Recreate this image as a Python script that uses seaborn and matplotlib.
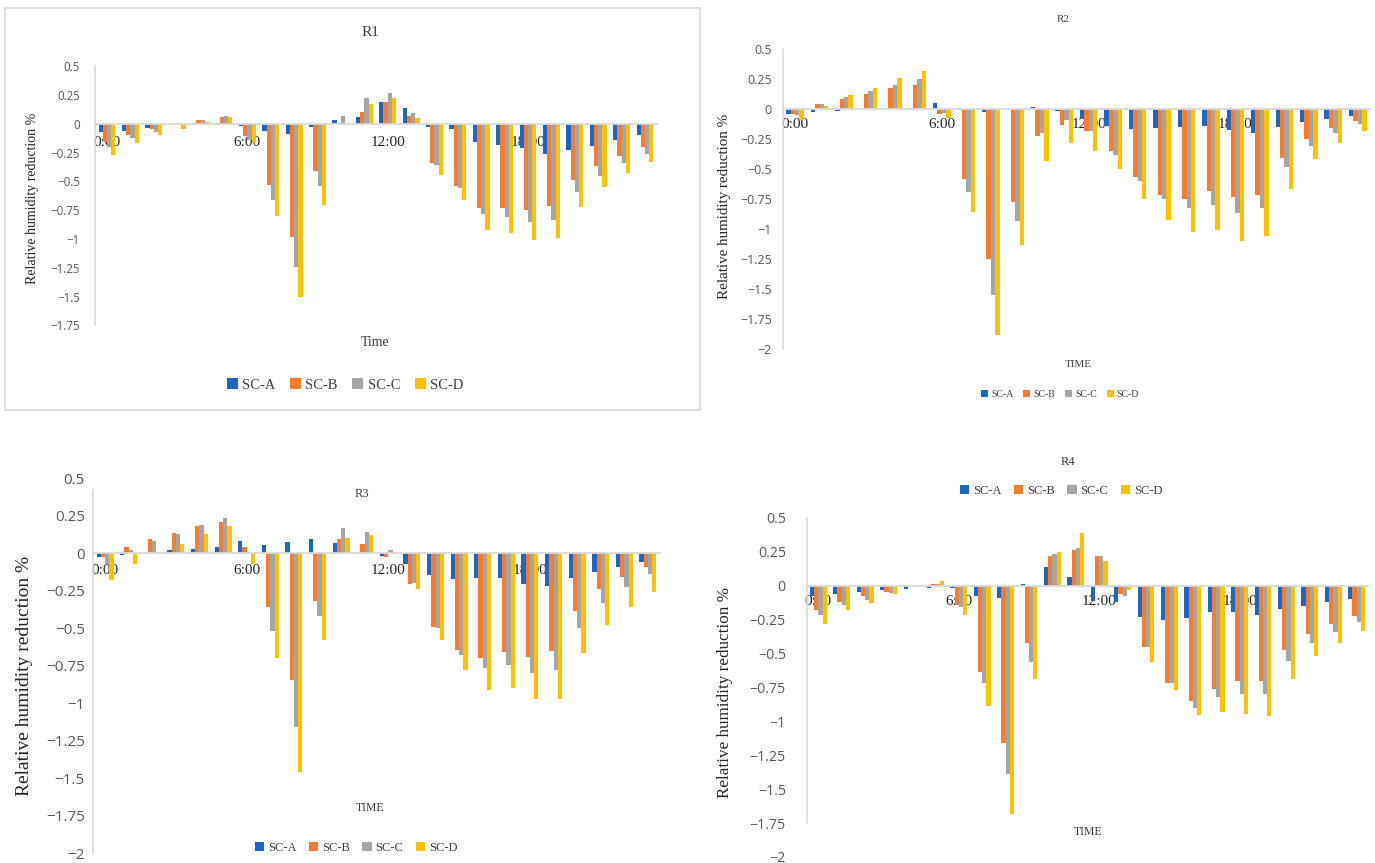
import numpy as np
import pandas as pd
import matplotlib
matplotlib.use("Agg")
import matplotlib.pyplot as plt
import seaborn as sns
from matplotlib.patches import Rectangle

# ---------------- data ----------------
hours = [f"{h}:00" for h in range(24)]
series = ["SC-A", "SC-B", "SC-C", "SC-D"]
tick_labels = ["0:00", "6:00", "12:00", "18:00"]
y_ticks_r1 = [0.5, 0.25, 0, -0.25, -0.5, -0.75, -1, -1.25, -1.5, -1.75]
y_ticks_r2 = [0.5, 0.25, 0, -0.25, -0.5, -0.75, -1, -1.25, -1.5, -1.75, -2]

r1_a = [-0.07, -0.06, -0.04, 0, 0.005, 0.005, -0.02, -0.06, -0.09, -0.03, 0.035, 0.06,
        0.19, 0.14, -0.03, -0.045, -0.155, -0.185, -0.21, -0.26, -0.23, -0.195, -0.145, -0.1]
r1_b = [-0.16, -0.1, -0.05, 0, 0.035, 0.06, -0.11, -0.53, -0.98, -0.41, 0.01, 0.1,
        0.19, 0.065, -0.345, -0.54, -0.73, -0.73, -0.75, -0.715, -0.49, -0.37, -0.28, -0.2]
r1_c = [-0.2, -0.12, -0.07, 0, 0.035, 0.07, -0.14, -0.665, -1.24, -0.54, 0.065, 0.22,
        0.27, 0.095, -0.355, -0.555, -0.78, -0.805, -0.855, -0.835, -0.59, -0.45, -0.345, -0.26]
r1_d = [-0.27, -0.17, -0.1, -0.045, 0.015, 0.06, -0.17, -0.8, -1.5, -0.705, -0.01, 0.17,
        0.225, 0.05, -0.445, -0.66, -0.92, -0.945, -1.01, -0.99, -0.72, -0.545, -0.43, -0.335]

r2_a = [-0.04, -0.02, -0.015, 0, 0, 0.01, 0.05, 0.01, -0.02, 0.005, 0.02, -0.015,
        -0.07, -0.14, -0.165, -0.16, -0.15, -0.14, -0.17, -0.2, -0.145, -0.11, -0.085, -0.055]
r2_b = [-0.04, 0.04, 0.085, 0.13, 0.175, 0.205, -0.04, -0.58, -1.245, -0.775, -0.225, -0.13,
        -0.18, -0.35, -0.565, -0.715, -0.75, -0.68, -0.735, -0.715, -0.405, -0.25, -0.16, -0.095]
r2_c = [-0.05, 0.04, 0.105, 0.15, 0.2, 0.25, -0.03, -0.69, -1.545, -0.93, -0.2, -0.09,
        -0.18, -0.38, -0.6, -0.75, -0.825, -0.8, -0.865, -0.82, -0.485, -0.305, -0.2, -0.12]
r2_d = [-0.09, 0.03, 0.115, 0.18, 0.26, 0.32, -0.075, -0.86, -1.885, -1.135, -0.43, -0.28,
        -0.35, -0.5, -0.745, -0.92, -1.02, -1.005, -1.1, -1.055, -0.665, -0.415, -0.285, -0.185]

r3_a = [-0.027, -0.01, 0.005, 0.025, 0.03, 0.04, 0.08, 0.055, 0.075, 0.095, 0.07, 0,
        -0.02, -0.07, -0.145, -0.17, -0.165, -0.165, -0.205, -0.22, -0.165, -0.125, -0.09, -0.055]
r3_b = [-0.027, 0.04, 0.095, 0.135, 0.18, 0.21, 0.04, -0.36, -0.845, -0.32, 0.095, 0.065,
        -0.025, -0.205, -0.49, -0.645, -0.695, -0.655, -0.69, -0.65, -0.385, -0.24, -0.16, -0.09]
r3_c = [-0.07, 0.02, 0.085, 0.13, 0.19, 0.235, 0.01, -0.515, -1.16, -0.42, 0.17, 0.145,
        0.025, -0.2, -0.5, -0.675, -0.765, -0.745, -0.8, -0.775, -0.495, -0.33, -0.225, -0.14]
r3_d = [-0.18, -0.07, 0, 0.065, 0.13, 0.185, -0.07, -0.7, -1.46, -0.58, 0.1, 0.12,
        -0.005, -0.235, -0.58, -0.78, -0.91, -0.9, -0.97, -0.97, -0.665, -0.475, -0.36, -0.26]

r4_a = [-0.075, -0.06, -0.05, -0.035, -0.025, -0.02, -0.02, -0.075, -0.09, 0.01, 0.14, 0.06,
        -0.11, -0.12, -0.23, -0.255, -0.235, -0.195, -0.195, -0.22, -0.175, -0.15, -0.12, -0.095]
r4_b = [-0.18, -0.12, -0.08, -0.045, -0.005, 0.015, -0.14, -0.64, -1.16, -0.42, 0.22, 0.26,
        0.215, -0.06, -0.45, -0.72, -0.85, -0.765, -0.705, -0.7, -0.475, -0.355, -0.28, -0.225]
r4_c = [-0.22, -0.145, -0.105, -0.055, -0.01, 0.015, -0.155, -0.715, -1.385, -0.56, 0.235, 0.28,
        0.22, -0.08, -0.45, -0.72, -0.9, -0.82, -0.8, -0.8, -0.555, -0.42, -0.34, -0.27]
r4_d = [-0.28, -0.18, -0.125, -0.065, 0, 0.035, -0.215, -0.885, -1.68, -0.69, 0.25, 0.39,
        0.185, -0.03, -0.56, -0.77, -0.955, -0.93, -0.945, -0.96, -0.69, -0.52, -0.42, -0.335]

colors = ["#1A68C6", "#F97C2C", "#A5A5A5", "#FFC000"]

# ---------------- style ----------------
W, H = 1375, 863
sns.set_theme(style="white")
SERIF = ["Liberation Serif", "DejaVu Serif"]
SANS = ["Open Sans", "DejaVu Sans"]
plt.rcParams["font.family"] = SERIF

fig = plt.figure(figsize=(W / 100, H / 100), dpi=100)


def rect(l, r, t, b):
    return [l / W, 1 - b / H, (r - l) / W, (b - t) / H]


def fx(x):
    return x / W


def fy(y):
    return 1 - y / H


def fmt(v):
    s = f"{v:g}"
    return s.replace("-", "\u2212")


# border of panel R1
fig.patches.append(Rectangle((fx(5), fy(410)), fx(700) - fx(5), fy(8) - fy(410),
                             transform=fig.transFigure, fill=False,
                             edgecolor="#D9D9D9", linewidth=1.2))

panels = [
    dict(name="R1", vals=(r1_a, r1_b, r1_c, r1_d), rect=rect(95.3, 656.7, 66, 325.5),
         ylim=(-1.75, 0.5), yticks=y_ticks_r1, tick_fs=8.3, tick_pad=11,
         xt_fs=9, xt_pad=9, ylab=(33, 198, 10), title=(370, 32, 11),
         xlab=("Time", 375, 342, 10), leg=(345, 385, 10.5), spine=(-1.75, 0.5)),
    dict(name="R2", vals=(r2_a, r2_b, r2_c, r2_d), rect=rect(782.8, 1370, 49.3, 349.3),
         ylim=(-2, 0.5), yticks=y_ticks_r2, tick_fs=9, tick_pad=8,
         xt_fs=7, xt_pad=6.5, ylab=(725, 206, 10.8), title=(1063, 20, 8),
         xlab=("TIME", 1078, 364, 8), leg=(1060, 394, 7), spine=(-2, 0.5)),
    dict(name="R3", vals=(r3_a, r3_b, r3_c, r3_d), rect=rect(93.2, 659.8, 478.3, 853.3),
         ylim=(-2, 0.5), yticks=y_ticks_r2, tick_fs=11, tick_pad=6,
         xt_fs=8.5, xt_pad=8, ylab=(25, 676, 14), title=(362, 494, 9),
         xlab=("TIME", 370, 808, 8.5), leg=(356, 848, 9), spine=(-2, 0.42)),
    dict(name="R4", vals=(r4_a, r4_b, r4_c, r4_d), rect=rect(806.6, 1368.4, 517.8, 857),
         ylim=(-2, 0.5), yticks=y_ticks_r2, tick_fs=10.2, tick_pad=15,
         xt_fs=8, xt_pad=7, ylab=(725, 693, 12.3), title=(1068, 462, 9),
         xlab=("TIME", 1088, 832, 8.5), leg=(1061, 491, 9), spine=(-1.75, 0.5)),
]

for p in panels:
    ax = fig.add_axes(p["rect"])
    rows = []
    for s, vals in zip(series, p["vals"]):
        for h, v in zip(hours, vals):
            rows.append({"hour": h, "series": s, "value": v})
    df = pd.DataFrame(rows)
    sns.barplot(data=df, x="hour", y="value", hue="series", order=hours,
                hue_order=series, palette=colors, saturation=1, width=0.72,
                errorbar=None, ax=ax, linewidth=0)
    handles, labels = ax.get_legend_handles_labels()
    if ax.get_legend() is not None:
        ax.get_legend().remove()

    ax.set_xlim(-0.5, 23.5)
    ax.set_ylim(*p["ylim"])
    ax.set_yticks(p["yticks"])
    ax.set_yticklabels([fmt(v) for v in p["yticks"]], family=SANS,
                       fontsize=p["tick_fs"], color="#595959")
    ax.set_xticks([0, 6, 12, 18])
    ax.set_xticklabels(tick_labels, family=SERIF, fontsize=p["xt_fs"], color="#595959")
    ax.tick_params(axis="y", length=0, pad=p["tick_pad"])
    ax.tick_params(axis="x", length=0, pad=p["xt_pad"])
    ax.set_xlabel("")
    ax.set_ylabel("")
    ax.set_facecolor("none")

    for side in ("top", "right"):
        ax.spines[side].set_visible(False)
    ax.spines["bottom"].set_position(("data", 0))
    ax.spines["bottom"].set_color("#D9D9D9")
    ax.spines["bottom"].set_linewidth(1.3)
    ax.spines["left"].set_color("#D9D9D9")
    ax.spines["left"].set_linewidth(1.2)
    ax.spines["left"].set_bounds(*p["spine"])
    ax.grid(False)

    x, y, fs = p["ylab"]
    fig.text(fx(x), fy(y), "Relative humidity reduction %", rotation=90,
             ha="center", va="center", fontsize=fs, color="#262626", family=SERIF)
    x, y, fs = p["title"]
    fig.text(fx(x), fy(y), p["name"], ha="center", va="center", fontsize=fs,
             color="#404040", family=SERIF)
    t, x, y, fs = p["xlab"]
    fig.text(fx(x), fy(y), t, ha="center", va="center", fontsize=fs,
             color="#404040", family=SERIF)
    x, y, fs = p["leg"]
    fig.legend(handles, labels, loc="center", bbox_to_anchor=(fx(x), fy(y)),
               bbox_transform=fig.transFigure, ncol=4, frameon=False,
               fontsize=fs, handlelength=0.75, handleheight=0.75,
               handletextpad=0.3, columnspacing=1.0, borderpad=0,
               labelcolor="#404040", prop={"family": SERIF, "size": fs})

fig.savefig("out.png", dpi=100, facecolor="white")
